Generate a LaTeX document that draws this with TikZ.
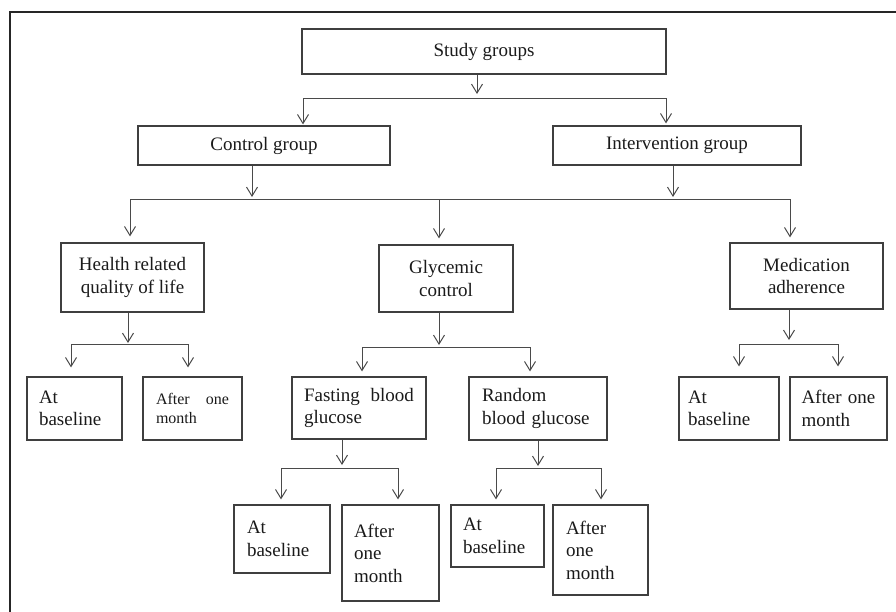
\documentclass[tikz,border=0pt]{standalone}
\usepackage{fontspec}
\setmainfont{Liberation Serif}
\usetikzlibrary{arrows.meta}
\definecolor{boxc}{HTML}{3F3F3F}
\definecolor{linec}{HTML}{4A4A4A}
\definecolor{txtc}{HTML}{1A1A1A}
\definecolor{framec}{HTML}{262626}
\begin{document}
\begin{tikzpicture}[x=1pt,y=-1pt,
  box/.style={draw=boxc, line width=1.2pt, text=txtc, inner sep=0pt, font=\fontsize{19}{22.5}\selectfont},
  cbox/.style={box, align=center},
  lbox/.style={box, align=left},
  conn/.style={draw=linec, line width=1pt},
  arr/.style={conn, -{Straight Barb[length=9pt,width=11pt,line width=1pt]}},
]
\useasboundingbox (0,0) rectangle (896,611);
\begin{scope}
\clip (0,0) rectangle (896,611);
\draw[line width=2pt, draw=framec] (10,620) -- (10,12) -- (905,12);
\end{scope}

% level 0/1
\node[cbox, minimum width=364pt, minimum height=45pt] (study) at (484,51.5) {Study groups};
\node[cbox, minimum width=252pt, minimum height=39pt] (ctrl) at (264,145.5) {Control group};
\node[cbox, minimum width=248pt, minimum height=39pt] (intv) at (677,145.5) {Intervention group};

% level 2
\node[cbox, minimum width=143pt, minimum height=69pt] (hrq) at (132.5,277.5) {Health related\\quality of life};
\node[cbox, minimum width=134pt, minimum height=67pt] (gly) at (446,278.5) {Glycemic\\control};
\node[cbox, minimum width=153pt, minimum height=66pt] (med) at (806.5,276) {Medication\\adherence};

% level 3
\node[lbox, text width=71pt, minimum width=95pt, minimum height=63pt] (hb) at (74.5,408.5) {At\\baseline};
\node[lbox, text width=73pt, minimum width=99pt, minimum height=63pt, font=\fontsize{16}{19}\selectfont] (ha) at (192.5,408.5) {After\hfill one\\month};
\node[lbox, text width=110pt, minimum width=134pt, minimum height=62pt] (fbg) at (359,408) {Fasting\hfill blood\\glucose};
\node[lbox, text width=112pt, minimum width=138pt, minimum height=63pt] (rbg) at (538,408.5) {Random\\blood glucose};
\node[lbox, text width=82pt, minimum width=100pt, minimum height=63pt] (mb) at (729,408.5) {At\\baseline};
\node[lbox, text width=74pt, minimum width=97pt, minimum height=63pt] (ma) at (838.5,408.5) {After one\\month};

% level 4
\node[lbox, text width=70pt, minimum width=96pt, minimum height=68pt] (fb) at (282,539) {At\\baseline};
\node[lbox, text width=73pt, minimum width=97pt, minimum height=96pt] (fa) at (390.5,553) {After\\one\\month};
\node[lbox, text width=69pt, minimum width=93pt, minimum height=62pt] (rb) at (497.5,536) {At\\baseline};
\node[lbox, text width=69pt, minimum width=95pt, minimum height=90pt] (ra) at (600.5,550) {After\\one\\month};

% junction coordinates
\coordinate (b1) at (477,98); \coordinate (b1l) at (303,98); \coordinate (b1r) at (666,98);
\coordinate (b2a) at (252,199); \coordinate (b2b) at (673,199);
\coordinate (b2l) at (130,199); \coordinate (b2m) at (439,199); \coordinate (b2r) at (790,199);
\coordinate (b3) at (128,344); \coordinate (b3l) at (71,344); \coordinate (b3r) at (188,344);
\coordinate (b4) at (439,347); \coordinate (b4l) at (362,347); \coordinate (b4r) at (530,347);
\coordinate (b5) at (789,344); \coordinate (b5l) at (739,344); \coordinate (b5r) at (838,344);
\coordinate (b6) at (342,468); \coordinate (b6l) at (281,468); \coordinate (b6r) at (398,468);
\coordinate (b7) at (538,468); \coordinate (b7l) at (496,468); \coordinate (b7r) at (601,468);

% study -> groups
\draw[arr, shorten >=4pt] (study.south -| b1) -- (b1);
\draw[conn] (b1l) -- (b1r);
\draw[arr, shorten >=1pt] (b1l) -- (b1l |- ctrl.north);
\draw[arr, shorten >=2pt] (b1r) -- (b1r |- intv.north);

% groups -> outcomes
\draw[arr, shorten >=2pt] (ctrl.south -| b2a) -- (b2a);
\draw[arr, shorten >=2pt] (intv.south -| b2b) -- (b2b);
\draw[conn] (b2l) -- (b2r);
\draw[arr, shorten >=6pt] (b2l) -- (b2l |- hrq.north);
\draw[arr, shorten >=6pt] (b2m) -- (b2m |- gly.north);
\draw[arr, shorten >=5pt] (b2r) -- (b2r |- med.north);

% HRQoL
\draw[arr, shorten >=1pt] (hrq.south -| b3) -- (b3);
\draw[conn] (b3l) -- (b3r);
\draw[arr, shorten >=9pt] (b3l) -- (b3l |- hb.north);
\draw[arr, shorten >=9pt] (b3r) -- (b3r |- ha.north);

% Glycemic
\draw[arr, shorten >=2pt] (gly.south -| b4) -- (b4);
\draw[conn] (b4l) -- (b4r);
\draw[arr, shorten >=5pt] (b4l) -- (b4l |- fbg.north);
\draw[arr, shorten >=5pt] (b4r) -- (b4r |- rbg.north);

% Medication
\draw[arr, shorten >=4pt] (med.south -| b5) -- (b5);
\draw[conn] (b5l) -- (b5r);
\draw[arr, shorten >=10pt] (b5l) -- (b5l |- mb.north);
\draw[arr, shorten >=10pt] (b5r) -- (b5r |- ma.north);

% Fasting
\draw[arr, shorten >=3pt] (fbg.south -| b6) -- (b6);
\draw[conn] (b6l) -- (b6r);
\draw[arr, shorten >=5pt] (b6l) -- (b6l |- fb.north);
\draw[arr, shorten >=5pt] (b6r) -- (b6r |- fa.north);

% Random
\draw[arr, shorten >=2pt] (rbg.south -| b7) -- (b7);
\draw[conn] (b7l) -- (b7r);
\draw[arr, shorten >=5pt] (b7l) -- (b7l |- rb.north);
\draw[arr, shorten >=5pt] (b7r) -- (b7r |- ra.north);
\end{tikzpicture}
\end{document}
